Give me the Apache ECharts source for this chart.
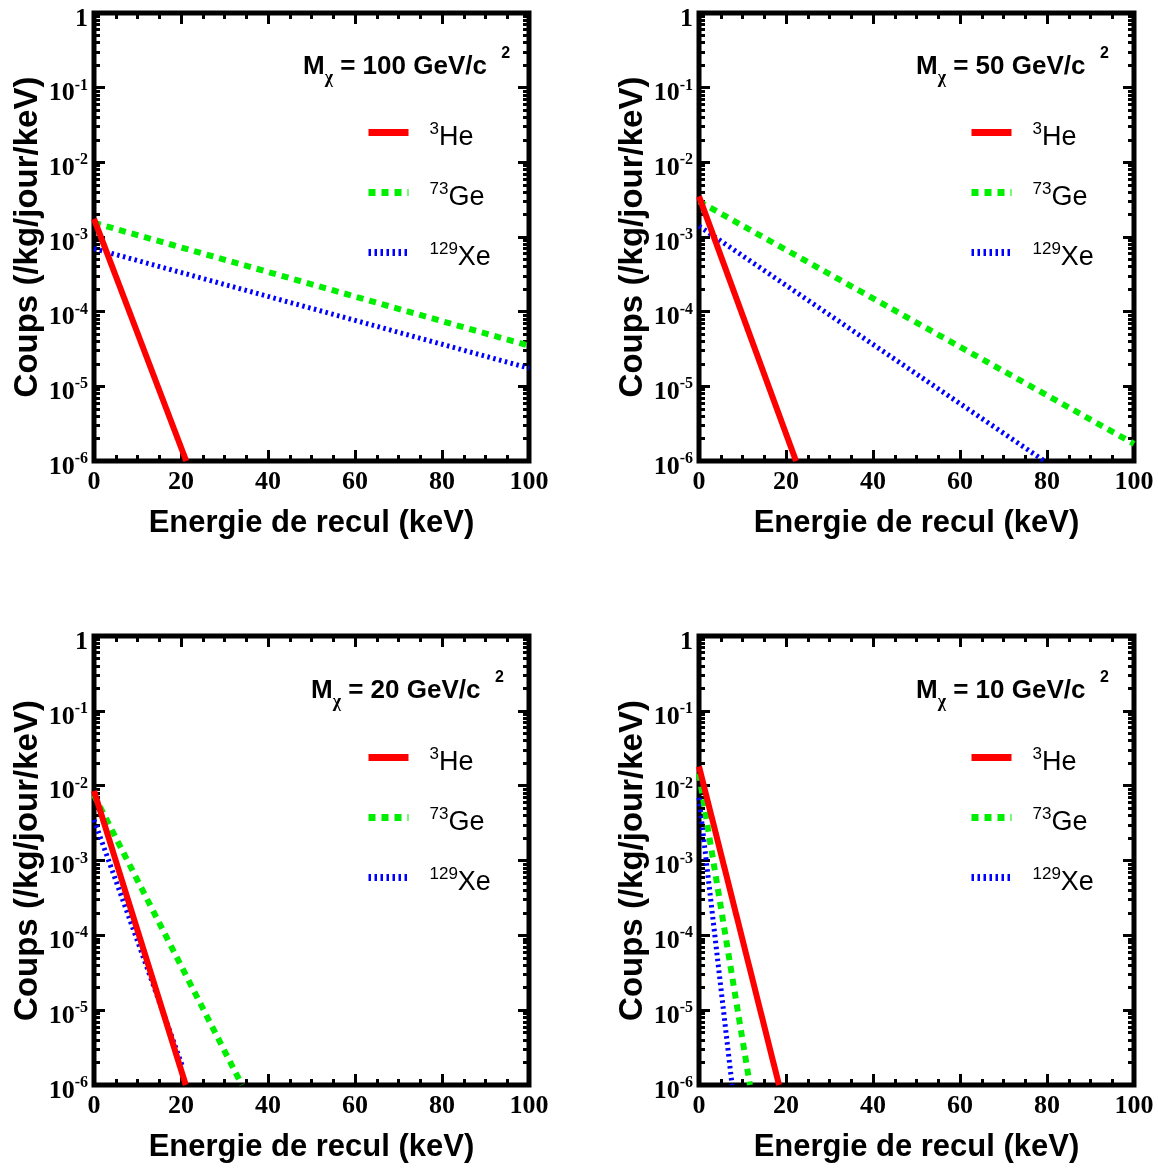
<!DOCTYPE html>
<html>
<head>
<meta charset="utf-8">
<script src="https://cdn.jsdelivr.net/npm/echarts@6/dist/echarts.min.js"></script>
<style>
  html, body { margin: 0; padding: 0; background: #fff; }
  #chart { width: 1158px; height: 1170px; }
</style>
</head>
<body>
<div id="chart"></div>
<script>
// ---------------- data ----------------
const panelMasses = ['100', '50', '20', '10'];          // WIMP mass, GeV/c^2
const isotopeMass = ['3', '73', '129'];
const isotopeSymbol = ['He', 'Ge', 'Xe'];
const xTicks = [0, 20, 40, 60, 80, 100];
const yTickExponents = [-6, -5, -4, -3, -2, -1, 0];

// [recoil energy keV, counts /kg/day/keV]
const he_100 = [[0, 1.75e-3], [21.2, 1e-6]];
const ge_100 = [[0, 1.55e-3], [100, 3.5e-5]];
const xe_100 = [[0, 7.0e-4], [100, 1.75e-5]];

const he_50 = [[0, 3.5e-3], [22.3, 1e-6]];
const ge_50 = [[0, 3.0e-3], [100, 1.7e-6]];
const xe_50 = [[0, 1.4e-3], [79.4, 1e-6]];

const he_20 = [[0, 8.5e-3], [21.1, 1e-6]];
const ge_20 = [[0, 7.5e-3], [34.0, 1e-6]];
const xe_20 = [[0, 3.5e-3], [20.3, 1.8e-6]];

const he_10 = [[0, 1.8e-2], [18.4, 1e-6]];
const ge_10 = [[0, 1.45e-2], [11.7, 1e-6]];
const xe_10 = [[0, 6.9e-3], [7.6, 1e-6]];

const panelSeries = [
  [he_100, ge_100, xe_100],
  [he_50, ge_50, xe_50],
  [he_20, ge_20, xe_20],
  [he_10, ge_10, xe_10]
];

// ---------------- layout / style ----------------
const grids = [
  { left: 94, top: 12 },
  { left: 699, top: 12 },
  { left: 94, top: 636 },
  { left: 699, top: 636 }
];
const GW = 435, GH = 449;
const titlePos = [[303, 46], [916, 46], [311, 670], [916, 670]];
const legendPos = [[365, 119], [968, 119], [365, 744], [968, 744]];

const lineStyles = [
  { color: '#ff0000', width: 6, type: 'solid' },
  { color: '#00ee00', width: 6, type: [7, 6] },
  { color: '#0000ff', width: 5, type: [2.5, 3.5] }
];

const yMajor = yTickExponents.map(e => Math.pow(10, e));
const yMinor = [];
for (let e = -6; e < 0; e++) {
  for (let k = 2; k <= 9; k++) yMinor.push(k * Math.pow(10, e));
}

const serifFont = '"Liberation Serif", "Times New Roman", serif';
const sansFont = '"Liberation Sans", Arial, sans-serif';

const option = {
  backgroundColor: '#fff',
  animation: false,
  grid: [], xAxis: [], yAxis: [], series: [], legend: [], title: []
};

const seriesNames = isotopeMass.map((m, i) => m + isotopeSymbol[i]);

grids.forEach((g, p) => {
  option.grid.push({
    left: g.left, top: g.top, width: GW, height: GH,
    show: true, borderColor: '#000', borderWidth: 5, backgroundColor: 'transparent'
  });
  const tickLine = { color: '#000', width: 3 };
  const xBase = {
    gridIndex: p, type: 'value', min: xTicks[0], max: xTicks[xTicks.length - 1], interval: 20,
    axisLine: { show: false },
    axisTick: { show: true, inside: true, length: 11, lineStyle: tickLine },
    minorTick: { show: true, splitNumber: 4, length: 6, lineStyle: tickLine },
    splitLine: { show: false }, minorSplitLine: { show: false }
  };
  option.xAxis.push(Object.assign({}, xBase, {
    position: 'bottom',
    name: 'Energie de recul (keV)', nameLocation: 'middle', nameGap: 47,
    nameTextStyle: { fontFamily: sansFont, fontWeight: 'bold', fontSize: 31, color: '#000' },
    axisLabel: { show: true, margin: 8, fontFamily: serifFont, fontWeight: 'bold', fontSize: 26, color: '#000' }
  }));
  option.xAxis.push(Object.assign({}, xBase, { position: 'top', axisLabel: { show: false } }));

  const yBase = {
    gridIndex: p, type: 'log', logBase: 10, min: 1e-6, max: 1,
    axisLine: { show: false }, splitLine: { show: false }, minorTick: { show: false }
  };
  option.yAxis.push(Object.assign({}, yBase, {
    position: 'left',
    axisTick: { show: true, inside: true, length: 11, lineStyle: tickLine, customValues: yMajor },
    axisLabel: {
      show: true, margin: 6, customValues: yMajor,
      formatter: function (v) {
        const e = Math.round(Math.log10(v));
        if (e === 0) return '{one|1}';
        return '{b|10}{s|' + e + '}';
      },
      rich: {
        one: { fontFamily: serifFont, fontWeight: 'bold', fontSize: 26, color: '#000', lineHeight: 26, verticalAlign: 'top', padding: [6, 0, 6, 0] },
        b: { fontFamily: serifFont, fontWeight: 'bold', fontSize: 26, color: '#000', lineHeight: 26, verticalAlign: 'top', padding: [6, 0, 6, 0] },
        s: { fontFamily: serifFont, fontWeight: 'bold', fontSize: 16, color: '#000', lineHeight: 16, verticalAlign: 'top', padding: [3, 0, 0, 0] }
      }
    },
    name: 'Coups (/kg/jour/keV)', nameLocation: 'middle', nameRotate: 90, nameGap: 46,
    nameTextStyle: { fontFamily: sansFont, fontWeight: 'bold', fontSize: 33, color: '#000' }
  }));
  option.yAxis.push(Object.assign({}, yBase, {
    position: 'left', axisLabel: { show: false },
    axisTick: { show: true, inside: true, length: 6, lineStyle: tickLine, customValues: yMinor }
  }));
  option.yAxis.push(Object.assign({}, yBase, {
    position: 'right', axisLabel: { show: false },
    axisTick: { show: true, inside: true, length: 11, lineStyle: tickLine, customValues: yMajor }
  }));
  option.yAxis.push(Object.assign({}, yBase, {
    position: 'right', axisLabel: { show: false },
    axisTick: { show: true, inside: true, length: 6, lineStyle: tickLine, customValues: yMinor }
  }));

  panelSeries[p].forEach((d, k) => {
    option.series.push({
      type: 'line', name: seriesNames[k],
      xAxisIndex: 2 * p, yAxisIndex: 4 * p,
      data: d, symbol: 'none', showSymbol: false,
      lineStyle: lineStyles[k], itemStyle: { color: lineStyles[k].color },
      emphasis: { disabled: true }, silent: true, z: 3 - k + 2
    });
  });

  option.legend.push({
    left: legendPos[p][0], top: legendPos[p][1], orient: 'vertical', padding: 0,
    itemWidth: 40, itemHeight: 14, itemGap: 25,
    selectedMode: false, data: seriesNames,
    lineStyle: { width: 7 },
    itemStyle: { opacity: 0, borderWidth: 0 },
    formatter: function (name) {
      const k = seriesNames.indexOf(name);
      return '{sp| }{sup|' + isotopeMass[k] + '}{b|' + isotopeSymbol[k] + '}';
    },
    textStyle: {
      rich: {
        sp: { width: 16, fontSize: 10, lineHeight: 10, verticalAlign: 'top' },
        sup: { fontFamily: sansFont, fontSize: 17, lineHeight: 17, color: '#000', verticalAlign: 'top', padding: [2, 0, 0, 0] },
        b: { fontFamily: sansFont, fontSize: 27, lineHeight: 27, color: '#000', verticalAlign: 'top', padding: [5, 0, 3, 0] }
      }
    }
  });

  option.title.push({
    left: titlePos[p][0], top: titlePos[p][1], padding: 0,
    text: '{m|M}{sub|χ}{m| = ' + panelMasses[p] + ' GeV/c  }{sup|2}',
    textStyle: {
      rich: {
        m: { fontFamily: sansFont, fontWeight: 'bold', fontSize: 26, lineHeight: 26, color: '#000', verticalAlign: 'top', padding: [8, 0, 0, 0] },
        sub: { fontFamily: serifFont, fontSize: 18, lineHeight: 18, color: '#000', verticalAlign: 'top', padding: [23, 0, 0, 0] },
        sup: { fontFamily: sansFont, fontWeight: 'bold', fontSize: 16, lineHeight: 16, color: '#000', verticalAlign: 'top', padding: [0, 0, 0, 0] }
      }
    }
  });
});

const chart = echarts.init(document.getElementById('chart'), null, { renderer: 'canvas' });
chart.setOption(option);
</script>
</body>
</html>
